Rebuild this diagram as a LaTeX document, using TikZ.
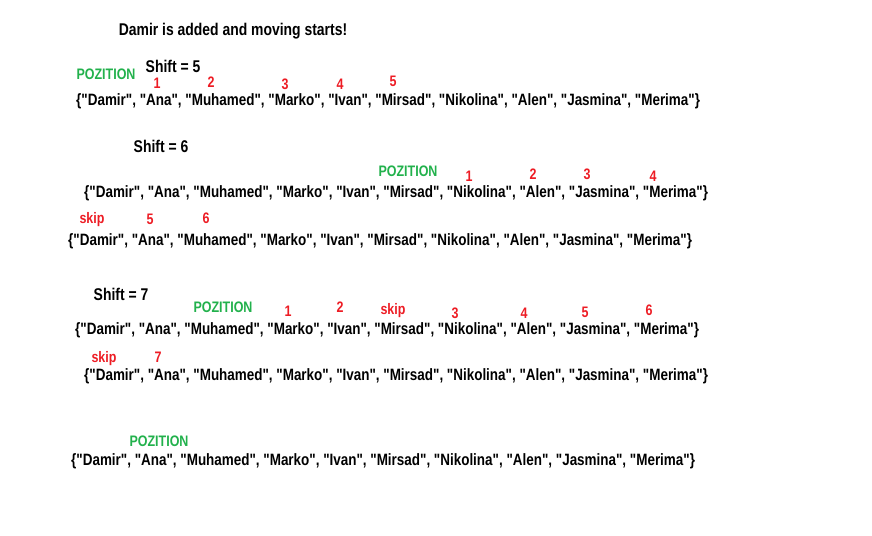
\documentclass[tikz,border=0pt]{standalone}
\usepackage{fontspec}
\setmainfont{Liberation Sans}[FakeStretch=0.82,Ligatures=TeXOff]
\usepackage{tikz}
\definecolor{pozgreen}{RGB}{34,177,76}
\definecolor{numred}{RGB}{237,28,36}
\newcommand{\namelist}{\{"Damir", "Ana", "Muhamed", "Marko", "Ivan", "Mirsad", "Nikolina", "Alen", "Jasmina", "Merima"\}}
\tikzset{
  lst/.style={anchor=west,inner sep=0pt,font=\bfseries\fontsize{14}{15}\selectfont},
  lbl/.style={inner sep=0pt,font=\bfseries\fontsize{14.5}{15}\selectfont},
  poz/.style={inner sep=0pt,font=\bfseries\fontsize{13}{14}\selectfont,text=pozgreen},
  num/.style={inner sep=0pt,font=\bfseries\fontsize{13}{14}\selectfont,text=numred},
}

\begin{document}
\begin{tikzpicture}[x=0.03cm,y=-0.03cm]
			\useasboundingbox (0,0) rectangle (872,536);
			\node[lbl] (title) at (233,31) {Damir is added and moving starts!};
			\node[poz] (pozA) at (106,74) {POZITION};
			\node[lbl] (shiftA) at (173,66) {Shift = 5};
			\node[num] (a1) at (157,83) {1};
			\node[num] (a2) at (211,82) {2};
			\node[num] (a3) at (285,84) {3};
			\node[num] (a4) at (340,84) {4};
			\node[num] (a5) at (393,81) {5};
			\node[lst] (listA) at (76,101) {\namelist};
			\node[lbl] (shiftB) at (161,146) {Shift = 6};
			\node[poz] (pozB) at (408,171) {POZITION};
			\node[num] (b1) at (469,176) {1};
			\node[num] (b2) at (533,174) {2};
			\node[num] (b3) at (587,174) {3};
			\node[num] (b4) at (653,176) {4};
			\node[lst] (listB) at (84,193) {\namelist};
			\node[num] (skipB) at (92,220) {skip};
			\node[num] (b5) at (150,219) {5};
			\node[num] (b6) at (206,218) {6};
			\node[lst] (listC) at (68,241) {\namelist};
			\node[lbl] (shiftC) at (121,294) {Shift = 7};
			\node[poz] (pozC) at (223,307) {POZITION};
			\node[num] (c1) at (288,311) {1};
			\node[num] (c2) at (340,307) {2};
			\node[num] (skipC) at (393,311) {skip};
			\node[num] (c3) at (455,313) {3};
			\node[num] (c4) at (524,313) {4};
			\node[num] (c5) at (585,312) {5};
			\node[num] (c6) at (649,310) {6};
			\node[lst] (listD) at (75,330) {\namelist};
			\node[num] (skipD) at (104,359) {skip};
			\node[num] (c7) at (158,357) {7};
			\node[lst] (listE) at (84,376) {\namelist};
			\node[poz] (pozD) at (159,441) {POZITION};
			\node[lst] (listF) at (71,461) {\namelist};
		\end{tikzpicture}
\end{document}
